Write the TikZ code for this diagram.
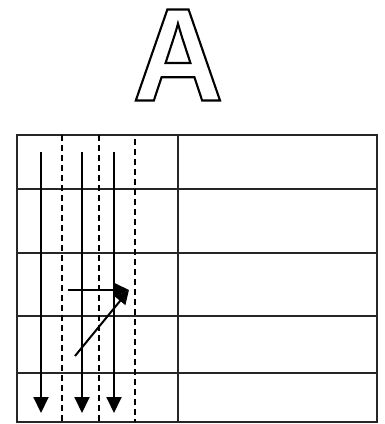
\documentclass[tikz,border=0pt]{standalone}
\usepackage{fontspec}
\newfontfamily\lettfont{Liberation Sans}
\usetikzlibrary{arrows.meta}
\newcommand{\outlined}[1]{\special{pdf:literal direct 1 Tr 2.2 w}#1\special{pdf:literal direct 0 Tr}}

\begin{document}
\begin{tikzpicture}[x=1pt, y=-1pt,
  grid/.style={line width=2.3pt, draw=black!85},
  flow/.style={line width=2pt, -{Triangle[length=16pt,width=15pt]}},
  move/.style={line width=2pt, -{Triangle[length=14pt,width=13pt]}},
  lane/.style={line width=1.8pt, dash pattern=on 6pt off 4pt},
]
  \useasboundingbox (0,0) rectangle (385,424);

  % Outlined letter
  \node[inner sep=0pt, xscale=0.95, font=\lettfont\bfseries\fontsize{132}{132}\selectfont] (lett) at (178,55)
    {\outlined{A}};

  % Table
  \draw[grid] (17,135) rectangle (377,422);
  \foreach \y in {189,253,316,373}
    \draw[grid] (17,\y) -- (377,\y);
  \draw[grid] (178,135) -- (178,422);

  % Dashed lanes
  \coordinate (d1a) at (62,135);  \coordinate (d1b) at (62,422);
  \coordinate (d2a) at (99,135);  \coordinate (d2b) at (99,422);
  \coordinate (d3a) at (135,139); \coordinate (d3b) at (135,422);
  \draw[lane] (d1a) -- (d1b);
  \draw[lane, line width=2.4pt] (d2a) -- (d2b);
  \draw[lane] (d3a) -- (d3b);

  % Downward flows
  \foreach \x/\n in {41/1,82/2,114/3} {
    \coordinate (f\n a) at (\x,152);
    \coordinate (f\n b) at (\x,413);
    \draw[flow] (f\n a) -- (f\n b);
  }

  % Moves into the lane
  \coordinate (m0) at (68,290);
  \coordinate (m1) at (75,356);
  \coordinate (mt) at (129,290);
  \draw[move] (m0) -- (mt);
  \draw[move] (m1) -- (mt);
\end{tikzpicture}
\end{document}
